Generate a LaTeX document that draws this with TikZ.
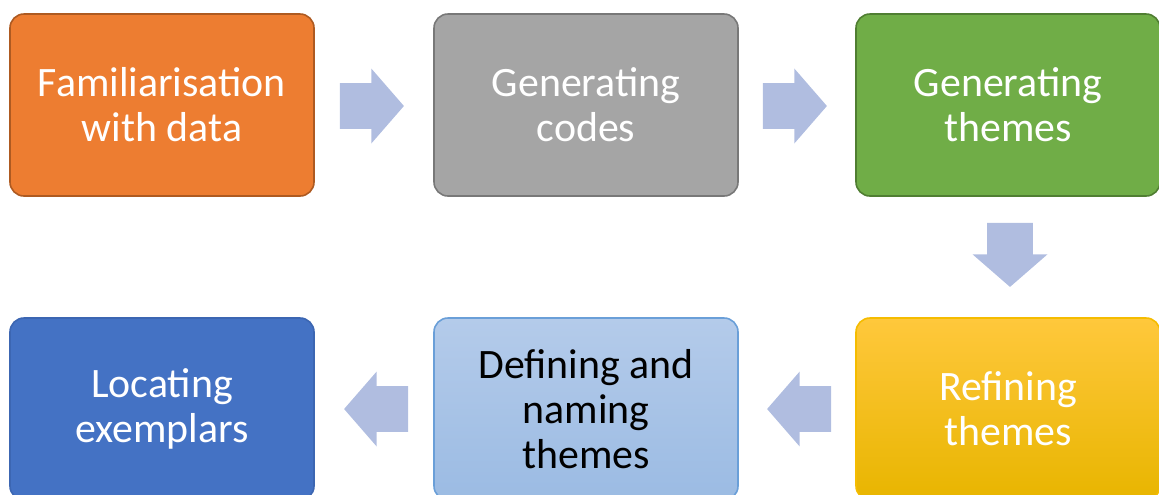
\documentclass[tikz,border=0pt]{standalone}
\usepackage{fontspec}
\setmainfont{Carlito}
\usepackage{xcolor}
\usetikzlibrary{shapes.arrows,calc}

\definecolor{famfill}{HTML}{ED7D31}
\definecolor{famline}{HTML}{AE5A21}
\definecolor{codfill}{HTML}{A5A5A5}
\definecolor{codline}{HTML}{787878}
\definecolor{genfill}{HTML}{70AD47}
\definecolor{genline}{HTML}{507E32}
\definecolor{reftop}{HTML}{FFC83C}
\definecolor{refmid}{HTML}{FFC000}
\definecolor{refbot}{HTML}{E8B500}
\definecolor{refline}{HTML}{F5BC00}
\definecolor{deftop}{HTML}{B4CBEA}
\definecolor{defbot}{HTML}{9BBBE3}
\definecolor{defline}{HTML}{6A9FD8}
\definecolor{locfill}{HTML}{4472C4}
\definecolor{locline}{HTML}{3C66B2}
\definecolor{flowblue}{HTML}{B0BDE0}

\begin{document}
\begin{tikzpicture}[x=0.75pt, y=-0.75pt,
  stage/.style={draw, line width=1.2pt, rounded corners=10.5pt,
    minimum width=228pt, minimum height=136.5pt, inner sep=0pt, outer sep=0pt,
    align=center, text=white, font=\fontsize{31.4}{33.8}\selectfont},
  flow/.style={single arrow, fill=flowblue, draw=none,
    inner xsep=0pt, inner ysep=16.9pt, minimum height=48pt,
    single arrow head extend=10.9pt, single arrow tip angle=98}]
  \useasboundingbox (0,0) rectangle (1159,494);
  \clip (0,0) rectangle (1159,494);

  % top row
  \node[stage, fill=famfill, draw=famline] (fam) at (162,105) {Familiarisation\\with data};
  \node[stage, fill=codfill, draw=codline] (cod) at (586,105) {Generating\\codes};
  \node[stage, fill=genfill, draw=genline] (gen) at (1008,105) {Generating\\themes};

  % bottom row
  \node[stage, top color=reftop, middle color=refmid, bottom color=refbot, draw=refline]
    (ref) at (1008,409) {Refining\\themes};
  \node[stage, top color=deftop, bottom color=defbot, draw=defline, text=black]
    (def) at (586,409) {Defining and\\naming\\themes};
  \node[stage, fill=locfill, draw=locline] (loc) at (162,409) {Locating\\exemplars};

  % block arrows
  \node[flow] (famcod) at ($(fam.east)!0.5!(cod.west)+(-12,1)$) {};
  \node[flow] (codgen) at ($(cod.east)!0.5!(gen.west)+(-12,1)$) {};
  \node[flow, rotate=-90] (genref) at ($(gen.south)!0.5!(ref.north)+(2,-12)$) {};
  \node[flow, rotate=180] (refdef) at ($(ref.west)!0.5!(def.east)+(12,0)$) {};
  \node[flow, rotate=180] (defloc) at ($(def.west)!0.5!(loc.east)+(12,0)$) {};
\end{tikzpicture}
\end{document}
